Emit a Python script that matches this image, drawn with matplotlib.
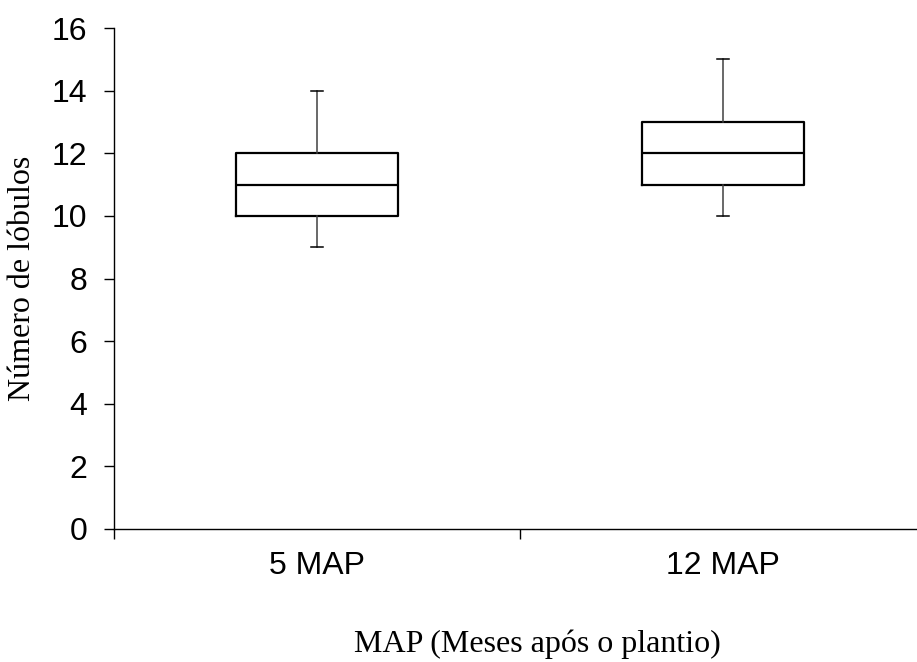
import matplotlib
matplotlib.use("Agg")
import matplotlib.pyplot as plt

# Box-plot summaries: number of lobes per sampling time
categories = ["5 MAP", "12 MAP"]
whisker_low = [9, 10]
q1 = [10, 11]
median = [11, 12]
q3 = [12, 13]
whisker_high = [14, 15]

yticks = [0, 2, 4, 6, 8, 10, 12, 14, 16]

W, H, DPI = 917, 662, 100
fig = plt.figure(figsize=(W / DPI, H / DPI), dpi=DPI)

# axes spans one category beyond the right edge like the original layout
left_px, right_px, top_px, bottom_px = 114, 926, 28, 529
ax = fig.add_axes([left_px / W, 1 - bottom_px / H,
                   (right_px - left_px) / W, (bottom_px - top_px) / H])

stats = []
for i, name in enumerate(categories):
    stats.append(dict(label=name, whislo=whisker_low[i], q1=q1[i], med=median[i],
                      q3=q3[i], whishi=whisker_high[i], fliers=[]))

positions = [i + 0.5 for i in range(len(categories))]
ax.bxp(stats, positions=positions, widths=0.4, showfliers=False,
       boxprops=dict(color="black", linewidth=1.6),
       medianprops=dict(color="black", linewidth=1.6),
       whiskerprops=dict(color="#404040", linewidth=1.1),
       capprops=dict(color="black", linewidth=1.1),
       capwidths=0.03, manage_ticks=False)

ax.set_xlim(0, len(categories))
ax.set_ylim(0, 16)
ax.set_yticks(yticks)

ax.spines["top"].set_visible(False)
ax.spines["right"].set_visible(False)
ax.spines["left"].set_linewidth(1.0)
ax.spines["bottom"].set_linewidth(1.0)

tick_font = dict(family="Liberation Sans", size=23)
ax.set_yticklabels([str(v) for v in yticks], **tick_font)
ax.tick_params(axis="y", direction="out", length=7, width=1.0, pad=12)

# category boundaries get tick marks; labels sit at centres without marks
ax.set_xticks(range(len(categories) + 1))
ax.set_xticklabels([])
ax.tick_params(axis="x", which="major", direction="out", length=7, width=1.0)
ax.set_xticks(positions, minor=True)
ax.set_xticklabels(categories, minor=True, **tick_font)
ax.tick_params(axis="x", which="minor", length=0, pad=16)

label_font = dict(family="Liberation Serif", size=23)
fig.text(23 / W, 1 - 278 / H, "Número de lóbulos", rotation=90,
         ha="center", va="center", **label_font)
fig.text(537 / W, 1 - 644 / H, "MAP (Meses após o plantio)",
         ha="center", va="center", **label_font)

fig.savefig("out.png", dpi=DPI, facecolor="white")
